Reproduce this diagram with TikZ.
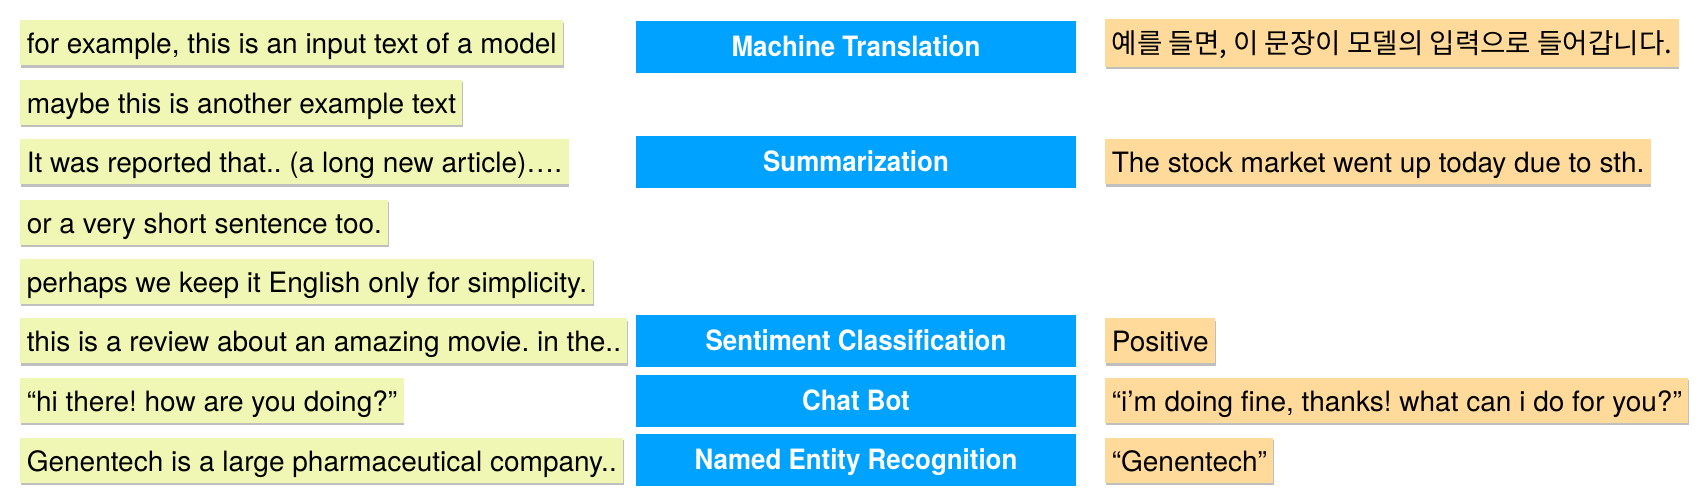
\documentclass[tikz,border=0pt]{standalone}
\usepackage{fontspec}
\setmainfont{TeX Gyre Heros}
\newfontfamily\inputfont{TeX Gyre Heros}
\newfontfamily\taskfont[FakeStretch=0.925]{TeX Gyre Heros}
\newfontfamily\korfont{Noto Sans CJK KR}
\usetikzlibrary{shadows}
\definecolor{inYellow}{RGB}{240,247,180}
\definecolor{outOrange}{RGB}{255,218,155}
\definecolor{taskBlue}{RGB}{0,162,255}
\tikzset{
  textbox/.style={anchor=west, inner xsep=3.2pt, inner ysep=0pt,
                  minimum height=22.5pt, text height=12.6pt, text depth=1.8pt,
                  font=\inputfont\fontsize{14}{16}\selectfont,
                  drop shadow={shadow xshift=0.3pt, shadow yshift=-1.2pt,
                               opacity=0.25, fill=black}},
  inbox/.style={textbox, fill=inYellow},
  outbox/.style={textbox, fill=outOrange},
  korbox/.style={outbox, minimum height=24pt, text height=12pt, text depth=1.5pt,
                 font=\korfont\fontsize{13.8}{16}\selectfont},
  task/.style={fill=taskBlue, text=white, minimum width=220pt,
               minimum height=26pt, inner sep=0pt,
               text height=11pt, text depth=1pt,
               font=\taskfont\bfseries\fontsize{14}{16}\selectfont},
}

\begin{document}
\frenchspacing
\begin{tikzpicture}[x=0.5pt, y=-0.5pt]
  \useasboundingbox (0,0) rectangle (1708,501);
  % ================= inputs =================
  \node[inbox] (inMT)    at (20,43)    {for example, this is an input text of a model};
  \node[inbox] (inEx)    at (20,102.5) {maybe this is another example text};
  \node[inbox] (inSum)   at (20,162)   {It was reported that.. (a long new article)….};
  \node[inbox] (inShort) at (20,222.5) {or a very short sentence too.};
  \node[inbox] (inEng)   at (20,281.5) {perhaps we keep it English only for simplicity.};
  \node[inbox] (inSent)  at (20,341)   {this is a review about an amazing movie. in the..};
  \node[inbox] (inChat)  at (20,400.5) {“hi there! how are you doing?”};
  \node[inbox] (inNER)   at (20,460.5) {Genentech is a large pharmaceutical company..};
  % ================= tasks =================
  \node[task] (taskMT)   at (856,47)  {Machine Translation};
  \node[task] (taskSum)  at (856,162) {Summarization};
  \node[task] (taskSent) at (856,341) {Sentiment Classification};
  \node[task] (taskChat) at (856,401) {Chat Bot};
  \node[task] (taskNER)  at (856,460) {Named Entity Recognition};
  % ================= outputs =================
  \node[korbox] (outMT)   at (1105,43)    {예를 들면, 이 문장이 모델의 입력으로 들어갑니다.};
  \node[outbox] (outSum)  at (1105,162)   {The stock market went up today due to sth.};
  \node[outbox] (outSent) at (1105,341)   {Positive};
  \node[outbox] (outChat) at (1105,400.5) {“i’m doing fine, thanks! what can i do for you?”};
  \node[outbox] (outNER)  at (1105,460.5) {“Genentech”};
\end{tikzpicture}
\end{document}
